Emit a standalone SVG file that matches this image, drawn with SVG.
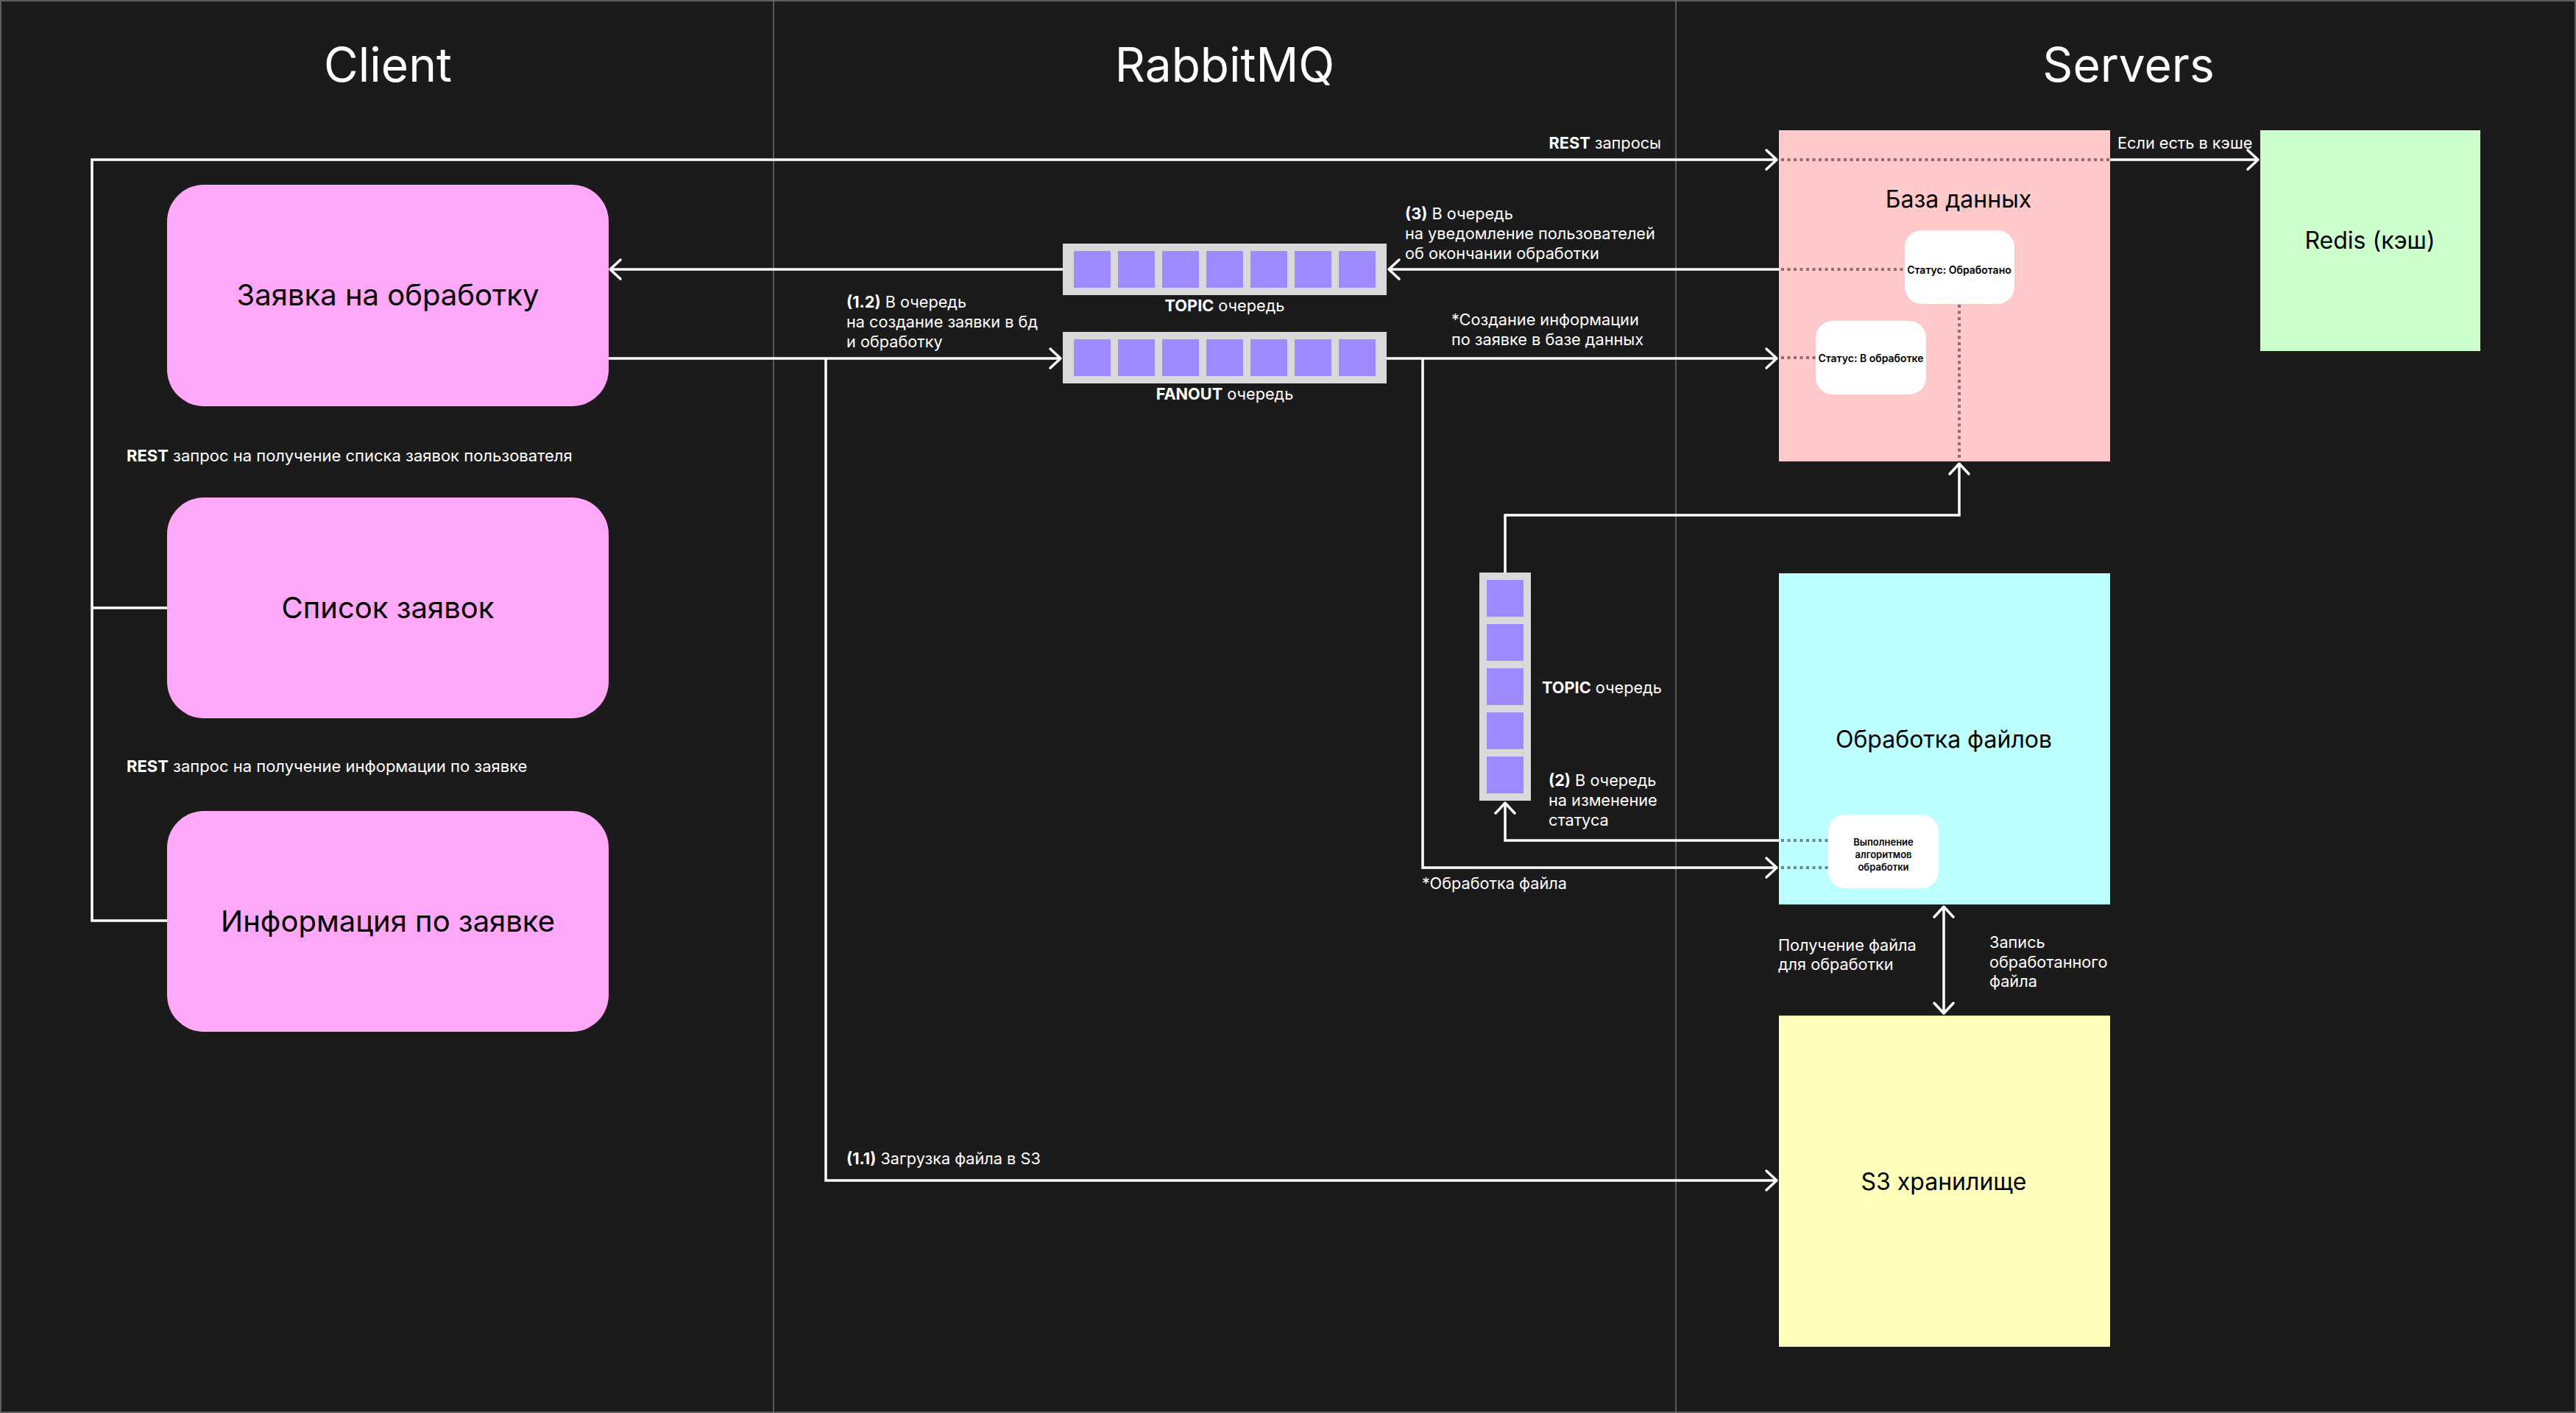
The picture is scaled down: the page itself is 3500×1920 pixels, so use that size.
<svg xmlns="http://www.w3.org/2000/svg" width="3500" height="1920" viewBox="0 0 3500 1920">
<defs>
<style>
.bg{fill:#1b1b1b;stroke:#5e5e5e;stroke-width:2}
.col{stroke:#6e6e6e;stroke-width:1.5}
.title{font-family:Inter,"Noto Sans",sans-serif;font-size:64px;fill:#fff;text-anchor:middle}
.conn{fill:none;stroke:#fff;stroke-width:3.5;stroke-linejoin:miter}
.dot{fill:none;stroke:#000;stroke-opacity:.45;stroke-width:4;stroke-dasharray:4 4.5}
.lbl{font-family:Inter,"Noto Sans",sans-serif;font-size:21.7px;fill:#fff}
.lbl2{font-size:22px}
.b{font-weight:700}
.client{fill:#ffa8f8}
.ntext{font-family:Inter,"Noto Sans",sans-serif;fill:#000;text-anchor:middle}
.big{font-size:40px}
.mid{font-size:32px}
.small{font-size:14px;font-weight:600}
.tiny{font-size:13px;font-weight:600}
.qbg{fill:#d9d9d9}
.cell{fill:#9d8cff}
.status{fill:#fff}
</style>
<marker id="arr" viewBox="-20 -20 40 40" markerWidth="40" markerHeight="40" refX="0" refY="0" markerUnits="userSpaceOnUse" orient="auto-start-reverse">
<path d="M-14,-13 L0,0 L-14,13" fill="none" stroke="#fff" stroke-width="3.5" stroke-linecap="round" stroke-linejoin="round"/>
</marker>
</defs>

<rect class="bg" x="1" y="1" width="3498" height="1918"/>
<line class="col" x1="1051" y1="0" x2="1051" y2="1920"/>
<line class="col" x1="2277" y1="0" x2="2277" y2="1920"/>

<text class="title" x="527" y="111">Client</text>
<text class="title" x="1664" y="111">RabbitMQ</text>
<text class="title" x="2892" y="111">Servers</text>

<g id="client-request">
<rect class="client" x="227" y="251" width="600" height="301" rx="50"/>
<text class="ntext big" x="527" y="415">Заявка на обработку</text>
</g>
<g id="client-list">
<rect class="client" x="227" y="676" width="600" height="300" rx="50"/>
<text class="ntext big" x="527" y="840">Список заявок</text>
</g>
<g id="client-info">
<rect class="client" x="227" y="1102" width="600" height="300" rx="50"/>
<text class="ntext big" x="527" y="1266">Информация по заявке</text>
</g>

<g id="db">
<rect x="2417" y="177" width="450" height="450" fill="#ffc9c9"/>
<text class="ntext mid" x="2661" y="282">База данных</text>
</g>
<g id="redis">
<rect x="3071" y="177" width="299" height="300" fill="#ccffcc"/>
<text class="ntext mid" x="3220" y="338">Redis (кэш)</text>
</g>
<g id="processing">
<rect x="2417" y="779" width="450" height="450" fill="#bbffff"/>
<text class="ntext mid" x="2641" y="1016">Обработка файлов</text>
</g>
<g id="s3">
<rect x="2417" y="1380" width="450" height="450" fill="#ffffbb"/>
<text class="ntext mid" x="2641" y="1617">S3 хранилище</text>
</g>

<g id="dotted">
<path class="dot" d="M2420,217 H2867"/>
<path class="dot" d="M2420,366 H2588"/>
<path class="dot" d="M2420,486 H2467"/>
<path class="dot" d="M2662,414 V627"/>
<path class="dot" d="M2420,1142 H2484"/>
<path class="dot" d="M2420,1179 H2484"/>
</g>

<g id="status-done">
<rect class="status" x="2588" y="313" width="149" height="100" rx="23"/>
<text class="ntext small" x="2662" y="372">Статус: Обработано</text>
</g>
<g id="status-progress">
<rect class="status" x="2467" y="436" width="150" height="100" rx="23"/>
<text class="ntext small" x="2542" y="492">Статус: В обработке</text>
</g>
<g id="algorithms">
<rect class="status" x="2484" y="1107" width="150" height="100" rx="23"/>
<text class="ntext tiny" x="2559" y="1149">Выполнение</text>
<text class="ntext tiny" x="2559" y="1166">алгоритмов</text>
<text class="ntext tiny" x="2559" y="1183">обработки</text>
</g>

<g id="topic-queue">
<rect class="qbg" x="1444" y="331" width="440" height="70"/>
<rect class="cell" x="1459" y="341" width="50" height="50"/>
<rect class="cell" x="1519" y="341" width="50" height="50"/>
<rect class="cell" x="1579" y="341" width="50" height="50"/>
<rect class="cell" x="1639" y="341" width="50" height="50"/>
<rect class="cell" x="1699" y="341" width="50" height="50"/>
<rect class="cell" x="1759" y="341" width="50" height="50"/>
<rect class="cell" x="1819" y="341" width="50" height="50"/>
<text class="lbl" x="1664" y="423" text-anchor="middle"><tspan class="b">TOPIC</tspan> очередь</text>
</g>
<g id="fanout-queue">
<rect class="qbg" x="1444" y="451" width="440" height="70"/>
<rect class="cell" x="1459" y="461" width="50" height="50"/>
<rect class="cell" x="1519" y="461" width="50" height="50"/>
<rect class="cell" x="1579" y="461" width="50" height="50"/>
<rect class="cell" x="1639" y="461" width="50" height="50"/>
<rect class="cell" x="1699" y="461" width="50" height="50"/>
<rect class="cell" x="1759" y="461" width="50" height="50"/>
<rect class="cell" x="1819" y="461" width="50" height="50"/>
<text class="lbl" x="1664" y="543" text-anchor="middle"><tspan class="b">FANOUT</tspan> очередь</text>
</g>
<g id="status-queue">
<rect class="qbg" x="2010" y="778" width="70" height="310"/>
<rect class="cell" x="2020" y="788" width="50" height="50"/>
<rect class="cell" x="2020" y="848" width="50" height="50"/>
<rect class="cell" x="2020" y="908" width="50" height="50"/>
<rect class="cell" x="2020" y="968" width="50" height="50"/>
<rect class="cell" x="2020" y="1028" width="50" height="50"/>
<text class="lbl" x="2095" y="942"><tspan class="b">TOPIC</tspan> очередь</text>
</g>

<g id="connectors">
<path class="conn" d="M227,1251 H125 V217 H2414" marker-end="url(#arr)"/>
<path class="conn" d="M227,826 H125"/>
<path class="conn" d="M2867,217 H3068" marker-end="url(#arr)"/>
<path class="conn" d="M2417,366 H1887" marker-end="url(#arr)"/>
<path class="conn" d="M1444,366 H829" marker-end="url(#arr)"/>
<path class="conn" d="M827,487 H1441" marker-end="url(#arr)"/>
<path class="conn" d="M1884,487 H2414" marker-end="url(#arr)"/>
<path class="conn" d="M1933,487 V1179 H2414" marker-end="url(#arr)"/>
<path class="conn" d="M1122,487 V1604 H2414" marker-end="url(#arr)"/>
<path class="conn" d="M2417,1142 H2045 V1091" marker-end="url(#arr)"/>
<path class="conn" d="M2045,778 V700 H2662 V630" marker-end="url(#arr)"/>
<path class="conn" d="M2641,1232 V1377" marker-start="url(#arr)" marker-end="url(#arr)"/>
</g>

<g id="labels">
<text class="lbl" x="2257" y="202" text-anchor="end"><tspan class="b">REST</tspan> запросы</text>
<text class="lbl" x="2877" y="202">Если есть в кэше</text>
<text class="lbl" x="1909" y="298"><tspan class="b">(3)</tspan> В очередь</text>
<text class="lbl" x="1909" y="325">на уведомление пользователей</text>
<text class="lbl" x="1909" y="352">об окончании обработки</text>
<text class="lbl" x="1150" y="418"><tspan class="b">(1.2)</tspan> В очередь</text>
<text class="lbl" x="1150" y="445">на создание заявки в бд</text>
<text class="lbl" x="1150" y="472">и обработку</text>
<text class="lbl" x="1972" y="442">*Создание информации</text>
<text class="lbl" x="1972" y="469">по заявке в базе данных</text>
<text class="lbl lbl2" x="172" y="627"><tspan class="b">REST</tspan> запрос на получение списка заявок пользователя</text>
<text class="lbl lbl2" x="172" y="1049"><tspan class="b">REST</tspan> запрос на получение информации по заявке</text>
<text class="lbl" x="2104" y="1068"><tspan class="b">(2)</tspan> В очередь</text>
<text class="lbl" x="2104" y="1095">на изменение</text>
<text class="lbl" x="2104" y="1122">статуса</text>
<text class="lbl" x="1932" y="1208">*Обработка файла</text>
<text class="lbl" x="2416" y="1292">Получение файла</text>
<text class="lbl" x="2416" y="1318">для обработки</text>
<text class="lbl" x="2703" y="1288">Запись</text>
<text class="lbl" x="2703" y="1315">обработанного</text>
<text class="lbl" x="2703" y="1341">файла</text>
<text class="lbl" x="1150" y="1582"><tspan class="b">(1.1)</tspan> Загрузка файла в S3</text>
</g>
</svg>
